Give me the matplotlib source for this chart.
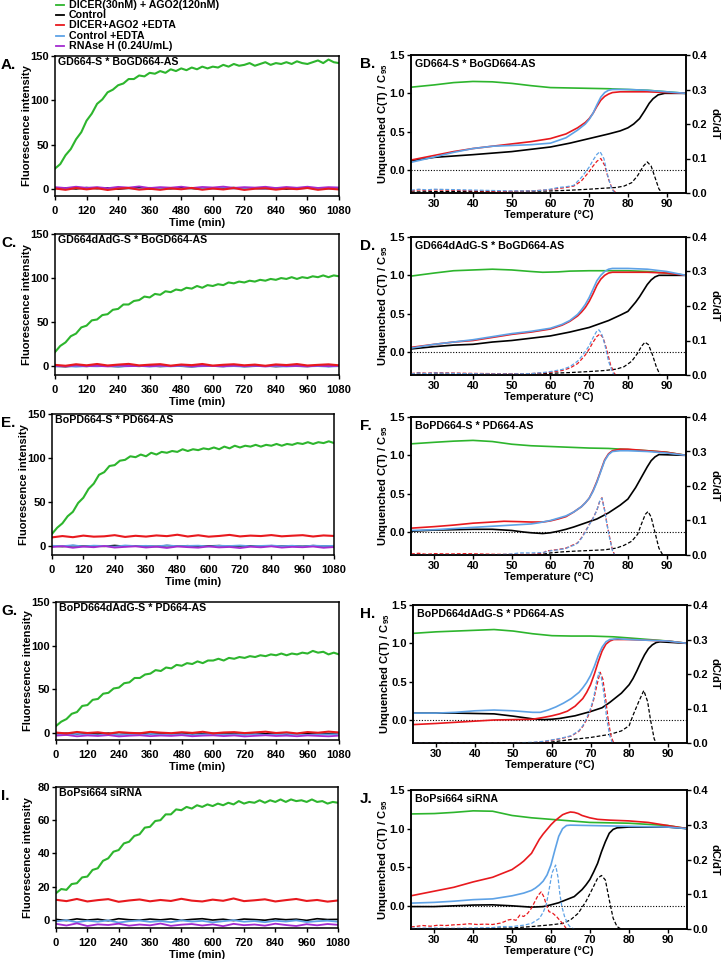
import numpy as np
import matplotlib
matplotlib.use('Agg')
import matplotlib.pyplot as plt
from matplotlib.lines import Line2D

plt.rcParams['font.family'] = ['Liberation Sans', 'DejaVu Sans']
plt.rcParams['font.weight'] = 'bold'
plt.rcParams['axes.labelweight'] = 'bold'
plt.rcParams['mathtext.fontset'] = 'custom'
plt.rcParams['mathtext.rm'] = 'Liberation Sans:bold'
plt.rcParams['mathtext.default'] = 'rm'

#%% colours / legend
GREEN = '#2DB52D'
BLACK = '#000000'
RED = '#E8191E'
BLUE = '#5EA2E6'
PURPLE = '#A42BD0'

legend_labels = ['DICER(30nM) + AGO2(120nM)', 'Control', 'DICER+AGO2 +EDTA',
                 'Control +EDTA', 'RNAse H (0.24U/mL)']
legend_colors = [GREEN, BLACK, RED, BLUE, PURPLE]

#%% time-course data (fluorescence intensity)
t20 = np.arange(0, 1081, 20)   # green traces sampled every 20 min
t40 = np.arange(0, 1081, 40)   # flat traces sampled every 40 min

a_green = [23, 28, 38, 45, 56, 64, 77, 85, 96, 101,
           109, 112, 117, 119, 124, 124, 128, 127, 131, 130,
           133, 131, 135, 133, 136, 134, 137, 135, 138, 136,
           138, 137, 140, 138, 141, 139, 140, 142, 139, 141,
           143, 140, 142, 141, 143, 141, 144, 142, 141, 143,
           145, 142, 146, 143, 142]
a_black = [0.5, 1, 0, 1.5, 0.3, 1.2, -0.2, 0.8, 1.4, 0, 0.9, 0.2, 1.3, 0.5,
           -0.3, 1, 0.6, 1.5, 0, 0.8, 0.3, 1.1, -0.2, 0.7, 1.2, 0.1, 0.9, 0.4]
a_blue = [0.8, 0, 1.2, 0.4, 1.5, -0.2, 1, 0.6, 0.1, 1.3, 0.5, 1.1, -0.1, 0.9,
          0.7, 0.2, 1.4, 0.3, 1, 0.6, -0.2, 1.2, 0.8, 0.3, 1, 0.5, 0, 0.9]
a_purple = [2, 1, 2.5, 1.2, 2, 0.8, 2.3, 1.5, 2.8, 1, 2, 1.4, 2.5, 1,
            2.2, 1.6, 2.6, 1.2, 2, 1.5, 2.4, 1, 2.2, 1.3, 2.5, 1.1, 2, 1.6]
a_red = [0.5, -1, 1, -0.5, 0.8, -1.2, 0.3, 1, -0.8, 0.2, -1, 0.6, -0.4, 1.1,
         -0.9, 0.4, -0.6, 0.9, -1.1, 0.2, 0.7, -0.8, 0.5, -0.3, 1, -1, 0.3, -0.6]

c_green = [16, 23, 27, 34, 37, 44, 46, 52, 53, 58,
           59, 64, 65, 70, 70, 74, 75, 79, 78, 82,
           81, 85, 84, 87, 86, 89, 88, 91, 89, 92,
           91, 93, 92, 95, 94, 96, 95, 97, 96, 98,
           97, 99, 98, 100, 99, 101, 99, 101, 100, 102,
           101, 103, 101, 103, 102]
c_black = [0, -0.5, 0.4, -0.2, 0.6, 0, -0.4, 0.3, -0.1, 0.5, -0.3, 0.2, 0, -0.5,
           0.4, 0.1, -0.2, 0.6, -0.3, 0, 0.4, -0.4, 0.2, 0, -0.2, 0.5, -0.1, 0.2]
c_blue = [-0.3, 0.2, -0.6, 0.1, -0.2, 0.4, -0.5, 0, 0.3, -0.4, 0.1, -0.2, 0.3, -0.6,
          0, 0.2, -0.3, 0.1, -0.5, 0.3, -0.1, 0, -0.4, 0.2, -0.2, 0.1, -0.5, 0]
c_purple = [0.5, -0.2, 0.8, 0, 0.4, -0.3, 0.7, 0.1, 0.3, -0.1, 0.6, 0, 0.9, -0.2,
            0.4, 0.2, -0.1, 0.6, 0, 0.5, -0.3, 0.7, 0.1, 0.3, -0.2, 0.5, 0, 0.4]
c_red = [1.5, 0.5, 2.2, 1, 2.5, 0.8, 1.8, 2.6, 0.9, 1.7, 2.3, 0.6, 1.9, 1.2,
         2.5, 0.7, 1.6, 2.2, 1, 1.8, 0.5, 2, 1.3, 2.4, 0.8, 1.5, 2.1, 1]

e_green = [14, 21, 26, 34, 39, 49, 55, 65, 71, 81,
           84, 91, 92, 97, 98, 102, 101, 104, 102, 106,
           104, 107, 106, 108, 107, 110, 108, 110, 109, 111,
           110, 112, 110, 113, 111, 114, 112, 114, 113, 115,
           113, 115, 114, 116, 114, 116, 115, 117, 116, 118,
           116, 118, 117, 119, 117]
e_black = [0.2, -0.4, 0.6, 0, 0.3, -0.2, 0.8, -0.1, 0.4, 0.1, -0.3, 0.7, 0, 0.5,
           -0.2, 0.3, 0.6, -0.1, 0.2, 0.4, -0.3, 0.5, 0.1, 0.3, -0.2, 0.6, 0, 0.3]
e_blue = [0.5, 0, 1, -0.3, 0.6, 0.2, -0.5, 0.8, 0.1, 0.4, -0.2, 0.9, 0, 0.3,
          0.6, -0.4, 0.5, 0.2, 0.8, -0.1, 0.3, 0.7, 0, 0.5, -0.3, 0.6, 0.2, 0.4]
e_purple = [-1, 0, -1.8, -0.5, -1.2, 0.2, -1.6, -0.8, -0.2, -1.5, -0.6, -2, -0.4, -1.1,
            -1.7, -0.3, -1.4, -0.9, -2.1, -0.6, -1.3, -0.2, -1.6, -0.8, -1.2, -0.4, -1.8, -1]
e_red = [10, 11.5, 10.2, 12, 10.8, 11.2, 12.5, 10.5, 11.8, 10.9, 12.2, 11.4, 13, 11,
         12.4, 10.8, 11.6, 12.8, 11.1, 12, 11.5, 12.6, 11.2, 11.9, 12.5, 11, 12.2, 11.6]

g_green = [8, 13, 16, 22, 24, 31, 32, 38, 39, 45,
           46, 51, 52, 57, 58, 63, 63, 67, 68, 72,
           71, 75, 74, 78, 77, 80, 79, 82, 80, 83,
           83, 85, 83, 86, 85, 87, 86, 88, 87, 89,
           88, 90, 89, 91, 89, 91, 90, 92, 91, 94,
           92, 93, 90, 92, 90]
g_black = [-1, -0.3, -1.5, -0.6, -1.2, -0.2, -1.8, -0.8, -0.4, -1.4, -0.7, -1.1, -0.3, -1.6,
           -0.9, -0.5, -1.3, -0.8, -1.7, -0.4, -1, -0.6, -1.5, -0.9, -0.3, -1.2, -0.7, -1.1]
g_blue = [-1.5, -2.2, -1, -1.8, -2.5, -1.2, -1.9, -1.4, -2.3, -1.1, -1.7, -2, -1.3, -2.4,
          -1.6, -1, -2.1, -1.5, -1.9, -1.2, -2.2, -1.6, -1, -1.8, -2.3, -1.4, -1.7, -1.2]
g_purple = [-3, -2.2, -3.8, -2.8, -3.4, -2.4, -3.9, -3.1, -2.6, -3.6, -2.9, -3.3, -2.5, -3.7,
            -3, -2.7, -3.5, -2.8, -3.9, -3.2, -2.6, -3.4, -3, -3.7, -2.8, -3.3, -3.8, -3]
g_red = [0.5, -0.5, 1.2, 0, 0.8, -0.7, 1, 0.2, -0.3, 1.3, 0.4, -0.2, 0.9, 0.1,
         1.4, -0.4, 0.6, 1, -0.1, 0.7, 1.5, 0, 0.8, -0.5, 1.1, 0.3, 1.6, 0.6]

i_green = [16, 18.5, 18, 21.5, 22, 25.5, 26, 30, 31, 35.5,
           37, 41, 42, 46, 47, 50.5, 51.5, 55.5, 56, 59.5,
           60, 63.5, 63.5, 66.5, 66, 68, 67, 69, 68, 69.5,
           68.5, 70, 69, 70.5, 69.5, 71.5, 70, 71, 70.5, 72,
           70.5, 72, 71, 72.5, 71, 72.5, 71.5, 72, 71, 72.5,
           71, 71.5, 70, 71, 70.5]
i_black = [0.2, -0.5, 0.5, -0.2, 0.3, -0.6, 0.6, 0, -0.3, 0.4, -0.1, 0.5, -0.4, 0.2,
           0.6, -0.2, 0.3, -0.5, 0.4, 0.1, -0.3, 0.5, 0, 0.3, -0.4, 0.6, 0.1, 0.2]
i_blue = [-1, -0.3, -1.5, -0.6, -1.2, -0.4, -1.7, -0.9, -0.5, -1.3, -0.8, -1.5, -0.4, -1.1,
          -0.7, -1.6, -0.9, -0.3, -1.2, -0.8, -1.5, -0.6, -1.1, -0.4, -1.4, -0.9, -0.6, -1.2]
i_purple = [-2.5, -3.5, -2.2, -3.8, -2.8, -3.2, -2.4, -3.6, -2.9, -3.4, -2.3, -3.7, -3, -2.6,
            -3.5, -2.8, -3.9, -2.5, -3.3, -2.9, -3.6, -2.4, -3.2, -3.8, -2.7, -3.4, -2.6, -3.1]
i_red = [12, 11.2, 12.5, 11, 11.8, 12.4, 10.8, 11.6, 12.2, 11.1, 11.9, 11.3, 12.6, 11.5,
         11, 12.1, 11.4, 12.8, 11.2, 11.7, 12.3, 11, 11.8, 12.5, 11.3, 11.9, 10.9, 11.6]

#%% melting data: (temperature, C(T)/C95) and (temperature, dC/dT)
b_green = [(24, 1.08), (30, 1.11), (35, 1.14), (40, 1.155), (45, 1.15), (50, 1.13), (55, 1.1),
           (60, 1.075), (65, 1.07), (70, 1.065), (75, 1.06), (80, 1.05), (85, 1.04), (90, 1.02), (95, 1.0)]
b_black = [(24, 0.12), (30, 0.165), (40, 0.2), (50, 0.24), (60, 0.3), (65, 0.35), (70, 0.41), (75, 0.47),
           (78, 0.51), (80, 0.55), (81.5, 0.6), (83, 0.67), (84.3, 0.77), (85.5, 0.87), (86.5, 0.93),
           (87.8, 0.98), (89.5, 1.0), (95, 1.0)]
b_red = [(24, 0.13), (30, 0.19), (35, 0.24), (40, 0.28), (45, 0.31), (50, 0.34), (55, 0.37), (60, 0.41),
         (64, 0.47), (67, 0.55), (69, 0.62), (70, 0.67), (71, 0.74), (72, 0.83), (73, 0.91), (74, 0.96),
         (75, 0.99), (76, 1.01), (78, 1.02), (85, 1.02), (90, 1.01), (95, 1.0)]
b_blue = [(24, 0.10), (30, 0.17), (35, 0.23), (40, 0.28), (45, 0.31), (50, 0.32), (55, 0.33), (60, 0.35),
          (64, 0.42), (67, 0.52), (69, 0.6), (70, 0.66), (71, 0.74), (72, 0.85), (73, 0.95), (74, 1.01),
          (75, 1.04), (76, 1.05), (80, 1.05), (85, 1.04), (90, 1.02), (95, 1.0)]
b_dblack = [(24, 0.003), (30, 0.004), (40, 0.004), (50, 0.004), (60, 0.006), (65, 0.008), (70, 0.011),
            (74, 0.014), (77, 0.016), (79, 0.02), (81, 0.03), (82.5, 0.05), (84, 0.078), (85, 0.09),
            (86, 0.078), (87, 0.045), (88, 0.012), (88.8, 0.0)]
b_dred = [(24, 0.006), (26, 0.009), (28, 0.007), (30, 0.009), (34, 0.008), (38, 0.007), (42, 0.006),
          (46, 0.005), (50, 0.005), (55, 0.006), (58, 0.008), (60, 0.01), (62, 0.013), (64, 0.016),
          (66, 0.02), (68, 0.035), (70, 0.062), (71, 0.078), (72, 0.092), (73, 0.1), (74, 0.08),
          (75, 0.04), (76, 0.01), (77, 0.0)]
b_dblue = [(24, 0.008), (26, 0.011), (28, 0.009), (30, 0.011), (34, 0.01), (38, 0.009), (42, 0.008),
           (46, 0.007), (50, 0.006), (55, 0.006), (58, 0.008), (60, 0.011), (62, 0.016), (64, 0.018),
           (66, 0.022), (68, 0.045), (70, 0.075), (71, 0.095), (72, 0.112), (72.8, 0.12), (73.8, 0.1),
           (74.8, 0.05), (75.8, 0.012), (76.6, 0.0)]

d_green = [(24, 0.99), (30, 1.03), (35, 1.06), (40, 1.07), (45, 1.08), (50, 1.07), (55, 1.05), (58, 1.04),
           (62, 1.045), (65, 1.055), (70, 1.06), (75, 1.06), (80, 1.06), (85, 1.05), (90, 1.03), (95, 1.0)]
d_black = [(24, 0.04), (30, 0.07), (35, 0.09), (40, 0.1), (45, 0.13), (50, 0.15), (55, 0.18), (60, 0.21),
           (65, 0.26), (70, 0.32), (75, 0.41), (78, 0.48), (80, 0.53), (82, 0.65), (83, 0.72), (84, 0.8),
           (85, 0.88), (86, 0.94), (87, 0.98), (88, 1.0), (95, 1.0)]
d_red = [(24, 0.06), (30, 0.1), (35, 0.13), (40, 0.15), (45, 0.19), (50, 0.23), (55, 0.26), (60, 0.3),
         (63, 0.35), (65, 0.4), (67, 0.47), (68, 0.52), (69, 0.58), (70, 0.66), (71, 0.76), (72, 0.87),
         (73, 0.95), (74, 1.0), (75, 1.03), (76, 1.04), (80, 1.04), (85, 1.04), (90, 1.03), (95, 1.0)]
d_blue = [(24, 0.05), (30, 0.1), (35, 0.13), (40, 0.16), (45, 0.2), (50, 0.24), (55, 0.27), (60, 0.31),
          (63, 0.36), (65, 0.41), (67, 0.49), (68, 0.55), (69, 0.62), (70, 0.71), (71, 0.82), (72, 0.93),
          (73, 1.0), (74, 1.05), (75, 1.08), (76, 1.09), (80, 1.09), (85, 1.08), (90, 1.05), (95, 1.0)]
d_dblack = [(24, 0.002), (30, 0.003), (40, 0.003), (50, 0.003), (55, 0.004), (60, 0.005), (65, 0.007),
            (70, 0.01), (74, 0.013), (77, 0.017), (79, 0.024), (81, 0.04), (82.5, 0.063), (83.5, 0.083),
            (84.4, 0.095), (85.3, 0.088), (86.3, 0.06), (87.3, 0.025), (88.3, 0.0)]
d_dred = [(24, 0.004), (26, 0.007), (28, 0.005), (30, 0.007), (34, 0.006), (38, 0.005), (45, 0.004),
          (50, 0.004), (55, 0.004), (58, 0.006), (60, 0.008), (63, 0.013), (65, 0.02), (67, 0.033),
          (68, 0.045), (69, 0.058), (70, 0.075), (71, 0.095), (72, 0.112), (72.8, 0.119), (73.6, 0.108),
          (74.5, 0.075), (75.5, 0.03), (76.5, 0.004), (77, 0.0)]
d_dblue = [(24, 0.003), (26, 0.006), (28, 0.004), (30, 0.006), (34, 0.005), (38, 0.004), (45, 0.003),
           (50, 0.003), (55, 0.004), (58, 0.007), (60, 0.01), (63, 0.016), (65, 0.024), (67, 0.04),
           (68, 0.053), (69, 0.068), (70, 0.085), (71, 0.108), (72, 0.128), (72.5, 0.131), (73.2, 0.12),
           (74, 0.09), (75, 0.04), (76, 0.008), (76.5, 0.0)]

f_green = [(24, 1.15), (30, 1.17), (35, 1.185), (40, 1.195), (45, 1.18), (50, 1.145), (55, 1.125),
           (60, 1.115), (65, 1.105), (70, 1.095), (75, 1.09), (80, 1.075), (85, 1.06), (90, 1.04), (95, 1.0)]
f_black = [(24, 0.01), (30, 0.025), (35, 0.03), (40, 0.035), (45, 0.035), (50, 0.02), (53, 0.0),
           (55, -0.01), (58, -0.02), (60, -0.01), (62, 0.01), (64, 0.035), (66, 0.065), (68, 0.1),
           (70, 0.135), (72, 0.17), (75, 0.25), (78, 0.35), (80, 0.43), (82, 0.58), (84, 0.76),
           (85, 0.85), (86, 0.93), (87, 0.98), (88, 1.01), (95, 1.0)]
f_red = [(24, 0.05), (30, 0.07), (35, 0.09), (40, 0.115), (45, 0.13), (48, 0.14), (52, 0.135), (55, 0.13),
         (58, 0.13), (60, 0.145), (62, 0.17), (64, 0.2), (66, 0.26), (68, 0.33), (69, 0.38), (70, 0.44),
         (71, 0.54), (72, 0.66), (73, 0.8), (74, 0.94), (75, 1.02), (76, 1.06), (78, 1.08), (80, 1.08),
         (85, 1.06), (90, 1.04), (95, 1.0)]
f_blue = [(24, 0.02), (30, 0.03), (35, 0.045), (40, 0.06), (45, 0.075), (50, 0.09), (55, 0.105),
          (57, 0.12), (60, 0.15), (62, 0.18), (64, 0.21), (66, 0.26), (68, 0.33), (69, 0.38), (70, 0.44),
          (71, 0.53), (72, 0.65), (73, 0.79), (74, 0.93), (75, 1.01), (76, 1.05), (78, 1.06), (80, 1.06),
          (85, 1.05), (90, 1.03), (95, 1.0)]
f_dblack = [(24, 0.0), (55, 0.0), (58, 0.002), (60, 0.006), (63, 0.009), (66, 0.011), (70, 0.013),
            (74, 0.015), (77, 0.02), (79, 0.028), (81, 0.04), (82.5, 0.06), (83.5, 0.09), (84.5, 0.118),
            (85.2, 0.126), (86, 0.11), (87, 0.065), (88, 0.02), (89, 0.0)]
f_dred = [(24, 0.003), (26, 0.005), (28, 0.002), (30, 0.004), (34, 0.003), (38, 0.004), (42, 0.003),
          (46, 0.002), (50, 0.002), (55, 0.002), (58, 0.005), (59, 0.012), (60, 0.013), (62, 0.016),
          (64, 0.02), (65, 0.025), (66, 0.03), (67, 0.035), (68, 0.05), (69, 0.068), (70, 0.088),
          (71, 0.107), (72, 0.13), (72.7, 0.155), (73.3, 0.166), (74, 0.13), (74.6, 0.09), (75.3, 0.05),
          (76, 0.015), (76.6, 0.0)]
f_dblue = [(24, 0.0), (45, 0.0), (50, 0.003), (52, 0.006), (55, 0.006), (58, 0.007), (60, 0.012),
           (62, 0.015), (64, 0.019), (65, 0.024), (66, 0.028), (67, 0.034), (68, 0.048), (69, 0.066),
           (70, 0.087), (71, 0.106), (72, 0.13), (72.7, 0.155), (73.3, 0.165), (74, 0.128), (74.6, 0.088),
           (75.3, 0.048), (76, 0.013), (76.6, 0.0)]

h_green = [(24, 1.13), (30, 1.15), (35, 1.16), (40, 1.17), (45, 1.18), (50, 1.16), (55, 1.125), (60, 1.1),
           (65, 1.095), (70, 1.095), (76, 1.085), (80, 1.07), (85, 1.05), (90, 1.03), (95, 1.0)]
h_black = [(24, 0.09), (30, 0.09), (35, 0.09), (40, 0.085), (45, 0.08), (50, 0.05), (55, 0.015),
           (58, 0.005), (60, 0.01), (62, 0.02), (66, 0.055), (70, 0.11), (73, 0.16), (75, 0.23), (78, 0.35),
           (80, 0.46), (81, 0.54), (82, 0.64), (83, 0.75), (84, 0.85), (85, 0.93), (86, 0.98), (87, 1.01),
           (88, 1.02), (95, 1.0)]
h_red = [(24, -0.06), (30, -0.045), (35, -0.03), (40, -0.015), (45, 0.0), (50, 0.005), (55, 0.01),
         (58, 0.035), (60, 0.055), (62, 0.08), (64, 0.115), (66, 0.18), (68, 0.28), (69, 0.36), (70, 0.46),
         (71, 0.6), (72, 0.76), (73, 0.9), (74, 0.99), (75, 1.03), (76, 1.05), (80, 1.05), (85, 1.04),
         (90, 1.03), (95, 1.0)]
h_blue = [(24, 0.09), (30, 0.09), (35, 0.1), (40, 0.12), (45, 0.13), (50, 0.12), (55, 0.1), (57, 0.1),
          (59, 0.13), (61, 0.17), (63, 0.22), (65, 0.28), (67, 0.36), (68, 0.42), (69, 0.49), (70, 0.58),
          (71, 0.7), (72, 0.84), (73, 0.95), (74, 1.02), (75, 1.05), (77, 1.06), (80, 1.05), (85, 1.04),
          (90, 1.03), (95, 1.0)]
h_dblack = [(24, 0.0), (58, 0.0), (60, 0.003), (65, 0.01), (70, 0.016), (75, 0.025), (78, 0.035),
            (80, 0.05), (81, 0.08), (82.5, 0.12), (83.8, 0.152), (84.8, 0.12), (85.5, 0.07), (86.5, 0.012),
            (87, 0.0)]
h_dred = [(24, 0.0), (52, 0.0), (55, 0.001), (58, 0.004), (62, 0.012), (65, 0.02), (67, 0.034),
          (68, 0.048), (69, 0.068), (70, 0.095), (70.8, 0.125), (71.7, 0.17), (72.5, 0.205), (73.2, 0.185),
          (73.9, 0.13), (74.6, 0.065), (75.3, 0.02), (76, 0.0)]
h_dblue = [(24, 0.0), (50, 0.0), (55, 0.002), (58, 0.005), (62, 0.013), (65, 0.021), (67, 0.036),
           (68, 0.05), (69, 0.072), (70, 0.1), (70.8, 0.13), (71.5, 0.175), (72.2, 0.205), (72.8, 0.19),
           (73.5, 0.14), (74.2, 0.07), (75, 0.02), (75.7, 0.0)]

j_green = [(24, 1.19), (30, 1.195), (35, 1.21), (40, 1.23), (45, 1.225), (50, 1.17), (55, 1.14), (60, 1.12),
           (65, 1.1), (70, 1.08), (80, 1.07), (90, 1.04), (95, 1.0)]
j_black = [(24, -0.01), (30, -0.01), (35, 0.0), (40, 0.01), (45, 0.013), (50, 0.0), (55, -0.017),
           (58, -0.01), (60, 0.013), (62, 0.04), (64, 0.08), (66, 0.12), (68, 0.21), (69, 0.27), (70, 0.34),
           (71, 0.44), (72, 0.55), (73, 0.7), (74, 0.83), (75, 0.94), (76, 0.99), (77, 1.01), (80, 1.02),
           (90, 1.02), (95, 1.0)]
j_red = [(24, 0.13), (30, 0.19), (35, 0.24), (40, 0.31), (45, 0.37), (50, 0.47), (52, 0.54), (53, 0.58),
         (54, 0.63), (55, 0.68), (56, 0.77), (57, 0.86), (58, 0.93), (59, 0.99), (60, 1.05), (61, 1.1),
         (62, 1.14), (63, 1.18), (64, 1.2), (65, 1.215), (66, 1.21), (67, 1.195), (68, 1.17), (70, 1.14),
         (72, 1.12), (75, 1.11), (80, 1.1), (85, 1.08), (90, 1.04), (95, 1.0)]
j_blue = [(24, 0.035), (30, 0.045), (35, 0.06), (40, 0.08), (45, 0.09), (50, 0.13), (53, 0.165),
          (55, 0.2), (56, 0.23), (57, 0.27), (58, 0.32), (59, 0.4), (60, 0.53), (61, 0.72), (62, 0.9),
          (63, 1.0), (64, 1.04), (65, 1.045), (70, 1.04), (80, 1.03), (90, 1.02), (95, 1.0)]
j_dblack = [(24, 0.0), (40, 0.0), (45, 0.002), (50, 0.003), (55, 0.007), (60, 0.012), (63, 0.016),
            (65, 0.026), (67, 0.045), (69, 0.079), (70.5, 0.112), (72, 0.146), (73, 0.154), (74, 0.141),
            (75, 0.084), (76, 0.031), (77, 0.007), (78, 0.0)]
j_dred = [(24, 0.006), (25, 0.007), (27, 0.01), (29, 0.008), (31, 0.011), (33, 0.01), (35, 0.012),
          (37, 0.013), (39, 0.015), (41, 0.013), (43, 0.014), (45, 0.013), (47, 0.017), (48, 0.021),
          (49, 0.026), (50, 0.028), (51, 0.025), (52, 0.04), (53, 0.036), (54, 0.045), (55, 0.06),
          (56, 0.082), (56.7, 0.097), (57.5, 0.107), (58.2, 0.092), (58.8, 0.07), (59.5, 0.05),
          (60.5, 0.045), (61.5, 0.035), (62.5, 0.022), (63.3, 0.012), (64, 0.0)]
j_dblue = [(24, 0.002), (30, 0.003), (35, 0.002), (40, 0.003), (45, 0.004), (47, 0.007), (50, 0.007),
           (53, 0.011), (55, 0.016), (57, 0.03), (58, 0.048), (58.8, 0.07), (59.5, 0.112), (60.3, 0.162),
           (61.2, 0.184), (61.8, 0.15), (62.3, 0.1), (62.8, 0.065), (63.5, 0.036), (64.3, 0.015),
           (65, 0.005), (66, 0.0)]

#%% layout (pixel boxes: left, right, top, bottom)
W, H = 723, 959


def rect(l, r, t, b):
    return [l / W, 1 - b / H, (r - l) / W, (b - t) / H]


def xy(pairs):
    return [p[0] for p in pairs], [p[1] for p in pairs]


time_panels = [
    ('A.', 'GD664-S * BoGD664-AS', (55, 339, 56, 196), (-8, 150), [0, 50, 100, 150],
     a_green, a_black, a_blue, a_purple, a_red),
    ('C.', 'GD664dAdG-S * BoGD664-AS', (55, 339, 234, 375), (-10, 150), [0, 50, 100, 150],
     c_green, c_black, c_blue, c_purple, c_red),
    ('E.', 'BoPD664-S * PD664-AS', (52, 334, 414, 555), (-10, 150), [0, 50, 100, 150],
     e_green, e_black, e_blue, e_purple, e_red),
    ('G.', 'BoPD664dAdG-S * PD664-AS', (56, 339, 602, 740), (-8, 150), [0, 50, 100, 150],
     g_green, g_black, g_blue, g_purple, g_red),
    ('I.', 'BoPsi664 siRNA', (56, 338, 787, 928), (-5, 80), [0, 20, 40, 60, 80],
     i_green, i_black, i_blue, i_purple, i_red),
]

melt_panels = [
    ('B.', 'GD664-S * BoGD664-AS', (411, 686, 55, 193),
     b_green, b_black, b_red, b_blue, b_dblack, b_dred, b_dblue),
    ('D.', 'GD664dAdG-S * BoGD664-AS', (411, 686, 237, 375),
     d_green, d_black, d_red, d_blue, d_dblack, d_dred, d_dblue),
    ('F.', 'BoPD664-S * PD664-AS', (411, 686, 417, 555),
     f_green, f_black, f_red, f_blue, f_dblack, f_dred, f_dblue),
    ('H.', 'BoPD664dAdG-S * PD664-AS', (413, 687, 605, 743),
     h_green, h_black, h_red, h_blue, h_dblack, h_dred, h_dblue),
    ('J.', 'BoPsi664 siRNA', (411, 687, 790, 929),
     j_green, j_black, j_red, j_blue, j_dblack, j_dred, j_dblue),
]

FS = 8
TFS = 7.7
fig = plt.figure(figsize=(W / 100, H / 100), dpi=100)


def style(ax):
    for s in ax.spines.values():
        s.set_linewidth(1.1)
    ax.tick_params(direction='out', length=3, width=1.0, labelsize=FS, pad=1.2)


#%% time-course panels
for letter, title, box, ylim, yt, green, black, blue, purple, red in time_panels:
    ax = fig.add_axes(rect(*box))
    ax.plot(t40, black, color=BLACK, lw=1.2)
    ax.plot(t40, blue, color=BLUE, lw=1.3)
    ax.plot(t40, purple, color=PURPLE, lw=1.3)
    ax.plot(t40, red, color=RED, lw=1.5)
    ax.plot(t20, green, color=GREEN, lw=1.5)
    ax.set_xlim(0, 1080)
    ax.set_ylim(*ylim)
    ax.set_xticks(range(0, 1081, 120))
    ax.set_yticks(yt)
    style(ax)
    ax.tick_params(axis='x', pad=4)
    ax.set_xlabel('Time (min)', fontsize=FS)
    ax.set_ylabel('Fluorescence intensity', fontsize=FS)
    hpx = box[3] - box[2]
    wpx = box[1] - box[0]
    ax.xaxis.set_label_coords(0.5, -22 / hpx)
    ax.yaxis.set_label_coords(-23 / wpx, 0.5)
    ax.text(0.01, 0.99, title, transform=ax.transAxes, ha='left', va='top', fontsize=TFS)
    fig.text(1 / W, 1 - (box[2] + 2) / H, letter, ha='left', va='top', fontsize=11)

#%% melting panels
for letter, title, box, green, black, red, blue, dblack, dred, dblue in melt_panels:
    ax = fig.add_axes(rect(*box))
    ax2 = ax.twinx()
    ax.axhline(0, color='black', lw=0.8, ls=(0, (1, 1.5)))
    for pairs, col in [(green, GREEN), (black, BLACK), (red, RED), (blue, BLUE)]:
        x, y = xy(pairs)
        ax.plot(x, y, color=col, lw=1.2)
    for pairs, col in [(dblack, BLACK), (dred, RED), (dblue, BLUE)]:
        x, y = xy(pairs)
        ax2.plot(x, y, color=col, lw=0.9, ls=(0, (3, 1.6)))
    ax.set_xlim(24, 95)
    ax.set_ylim(-0.3, 1.5)
    ax2.set_ylim(0, 0.4)
    ax.set_xticks(range(30, 91, 10))
    ax.set_yticks([0.0, 0.5, 1.0, 1.5])
    ax2.set_yticks([0.0, 0.1, 0.2, 0.3, 0.4])
    ax.yaxis.set_major_formatter(plt.FormatStrFormatter('%.1f'))
    ax2.yaxis.set_major_formatter(plt.FormatStrFormatter('%.1f'))
    style(ax)
    style(ax2)
    ax.set_xlabel('Temperature (\u00b0C)', fontsize=FS)
    ax.set_ylabel('Unquenched C(T) / C$_{95}$', fontsize=FS)
    ax2.set_ylabel('dC/dT', fontsize=FS, rotation=270, va='center')
    hpx = box[3] - box[2]
    wpx = box[1] - box[0]
    ax.xaxis.set_label_coords(0.5, -17 / hpx)
    ax.yaxis.set_label_coords(-21 / wpx, 0.5)
    ax2.yaxis.set_label_coords((714 - box[0]) / wpx, 0.5)
    ax.text(0.015, 0.97, title, transform=ax.transAxes, ha='left', va='top', fontsize=TFS)
    fig.text(360 / W, 1 - (box[2] + 2) / H, letter, ha='left', va='top', fontsize=11)

#%% legend at the top
for k, (lab, col) in enumerate(zip(legend_labels, legend_colors)):
    yy = 1 - (4.7 + 10.3 * k) / H
    fig.add_artist(Line2D([56 / W, 64 / W], [yy, yy], color=col, lw=1.3))
    fig.text(69 / W, yy, lab, ha='left', va='center', fontsize=TFS)

fig.savefig('out.png', dpi=100)
